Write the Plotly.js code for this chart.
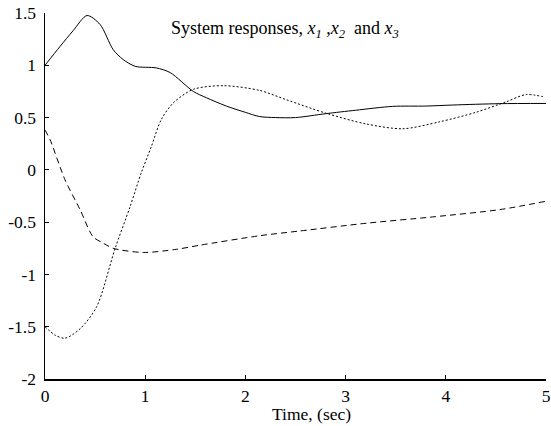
<!DOCTYPE html>
<html>
<head>
<meta charset="utf-8">
<script src="https://cdn.plot.ly/plotly-3.0.1.min.js"></script>
<style>
html,body{margin:0;padding:0;background:#fff;}
#chart{width:551px;height:426px;}
</style>
</head>
<body>
<div id="chart"></div>
<script>
// x1 response (solid)
var t1 = [0, 0.15, 0.28, 0.42, 0.55, 0.68, 0.78, 0.9, 1.11, 1.25, 1.48, 1.61, 1.81, 2.0, 2.14, 2.3, 2.5, 2.8, 3.1, 3.47, 3.8, 4.07, 4.54, 5.0];
var x1 = [1.0, 1.18, 1.33, 1.476, 1.39, 1.15, 1.055, 0.99, 0.975, 0.93, 0.75, 0.69, 0.61, 0.55, 0.51, 0.50, 0.50, 0.537, 0.57, 0.607, 0.61, 0.62, 0.633, 0.635];
// x2 response (dashed)
var t2 = [0, 0.05, 0.2, 0.35, 0.48, 0.58, 0.68, 0.98, 1.31, 1.55, 2.14, 2.54, 3.21, 3.87, 4.54, 5.0];
var x2 = [0.38, 0.29, -0.096, -0.38, -0.64, -0.70, -0.75, -0.79, -0.76, -0.72, -0.63, -0.585, -0.51, -0.45, -0.38, -0.30];
// x3 response (dotted)
var t3 = [0, 0.1, 0.2, 0.35, 0.515, 0.7, 0.85, 0.96, 1.06, 1.16, 1.28, 1.48, 1.78, 2.14, 2.41, 2.81, 3.2, 3.57, 3.94, 4.3, 4.6, 4.8, 4.97];
var x3 = [-1.5, -1.58, -1.61, -1.52, -1.31, -0.75, -0.35, -0.03, 0.22, 0.48, 0.64, 0.77, 0.805, 0.76, 0.67, 0.54, 0.44, 0.393, 0.46, 0.55, 0.65, 0.72, 0.70];

var xTicks = [0, 1, 2, 3, 4, 5];
var yTicks = [-2, -1.5, -1, -0.5, 0, 0.5, 1, 1.5];
var yTickText = ['-2', '-1.5', '-1', '-0.5', '0', '0.5', '1', '1.5'];

var font = 'Liberation Serif';
var traces = [
  {x: t1, y: x1, mode: 'lines', line: {color: '#000', width: 1, shape: 'spline', smoothing: 0.8}},
  {x: t2, y: x2, mode: 'lines', line: {color: '#000', width: 1, dash: '6px,4px', shape: 'spline', smoothing: 0.8}},
  {x: t3, y: x3, mode: 'lines', line: {color: '#000', width: 1, dash: '2px,2px', shape: 'spline', smoothing: 0.8}}
];
var layout = {
  width: 551, height: 426,
  margin: {l: 45, r: 5, t: 13, b: 47},
  paper_bgcolor: '#fff', plot_bgcolor: '#fff',
  showlegend: false,
  font: {family: font, size: 17.5, color: '#000'},
  xaxis: {range: [0, 5], tickvals: xTicks, ticks: 'inside', ticklen: 4, tickwidth: 1, tickcolor: '#000',
    showline: true, linecolor: '#000', linewidth: 1.5, mirror: false, showgrid: false, zeroline: false,
    tickfont: {family: font, size: 17.5, color: '#000'}},
  yaxis: {range: [-2, 1.5], tickvals: yTicks, ticktext: yTickText, ticks: 'inside', ticklen: 4, tickwidth: 1, tickcolor: '#000',
    showline: true, linecolor: '#000', linewidth: 1.5, mirror: false, showgrid: false, zeroline: false,
    ticklabelstandoff: 4,
    tickfont: {family: font, size: 17.5, color: '#000'}},
  annotations: [{
    xref: 'paper', yref: 'paper', x: 0.48, y: 0.954, xanchor: 'center', yanchor: 'middle', showarrow: false,
    text: 'System responses, <i>x</i><sub><i>1</i></sub> ,<i>x</i><sub><i>2</i></sub>  and <i>x</i><sub><i>3</i></sub>',
    font: {family: font, size: 18, color: '#000'}
  }, {
    xref: 'paper', yref: 'paper', x: 0.532, y: -0.095, xanchor: 'center', yanchor: 'middle', showarrow: false,
    text: 'Time, (sec)',
    font: {family: font, size: 17.5, color: '#000'}
  }]
};
Plotly.newPlot('chart', traces, layout, {staticPlot: true, displayModeBar: false});
</script>
</body>
</html>
